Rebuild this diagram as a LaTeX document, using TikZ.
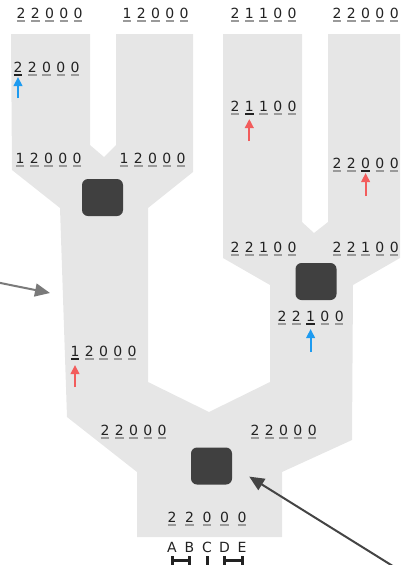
\documentclass[tikz,border=0pt]{standalone}
\usepackage{fontspec}
\setmainfont{DejaVu Sans}
\usetikzlibrary{arrows.meta}
\definecolor{shapegray}{HTML}{E6E6E6}
\definecolor{boxdark}{HTML}{404040}
\definecolor{digitc}{HTML}{222222}
\definecolor{ulgray}{HTML}{9A9A9A}
\definecolor{ulhi}{HTML}{222222}
\definecolor{arrblue}{HTML}{1E9BF0}
\definecolor{arrred}{HTML}{F25C5C}
\definecolor{pointgray}{HTML}{7A7A7A}
\definecolor{pointdark}{HTML}{444444}
\newcommand\digitrow[6]{%
  \foreach \dd [count=\ii] in {#5}{%
    \node[dig] (#1-\ii) at ({#2+(\ii-1)*#4},#3) {\dd};
    \ifnum\ii=#6\relax\def\ulc{ulhi}\else\def\ulc{ulgray}\fi
    \draw[ul,draw=\ulc] ([xshift=-4.2pt,yshift=-3pt]#1-\ii.base) -- ([xshift=4.2pt,yshift=-3pt]#1-\ii.base);
  }}
\begin{document}
\begin{tikzpicture}[x=1pt,y=-1pt,
  dig/.style={anchor=base,inner sep=0pt,font=\fontsize{14}{14}\selectfont,text=digitc},
  lett/.style={anchor=base,inner sep=0pt,font=\fontsize{14}{14}\selectfont,text=digitc},
  ul/.style={line width=1.7pt},
  darkbox/.style={fill=boxdark,draw=none,rounded corners=6pt,minimum width=41pt,minimum height=37pt,inner sep=0pt},
  bluearr/.style={draw=arrblue,line width=2.2pt,-{Triangle[length=9pt,width=8.5pt]}},
  redarr/.style={draw=arrred,line width=2.2pt,-{Triangle[length=9pt,width=8.5pt]}},
  pointer/.style={line width=2pt,-{Triangle[length=15pt,width=13pt]}},
  brk/.style={draw=digitc,line width=3pt}]
\useasboundingbox (0,0) rectangle (402,565);
% gray tree shape
\fill[shapegray] (11,34) -- (90,34) -- (90,145) -- (104,157) -- (116,145) -- (116,34)
  -- (193,34) -- (193,172) -- (148,208) -- (148,382) -- (209,412) -- (270,382)
  -- (270,285) -- (223,258) -- (223,34) -- (302,34) -- (302,222) -- (314,233)
  -- (328,222) -- (328,34) -- (400,34) -- (400,258) -- (353,285) -- (352,440)
  -- (282,472) -- (282,537) -- (137,537) -- (137,472) -- (67,417) -- (60,208)
  -- (12,170) -- cycle;
% dark boxes
\node[darkbox] (box1) at (102.5,197.5) {};
\node[darkbox] (box2) at (316,281.5) {};
\node[darkbox] (box3) at (211.5,466) {};
% digit rows
\digitrow{r1}{21}{18}{14.3}{2,2,0,0,0}{0}
\digitrow{r2}{127}{18}{14.3}{1,2,0,0,0}{0}
\digitrow{r3}{235}{18}{14.3}{2,1,1,0,0}{0}
\digitrow{r4}{337}{18}{14.3}{2,2,0,0,0}{0}
\digitrow{r5}{18}{72}{14.3}{2,2,0,0,0}{1}
\digitrow{r6}{20}{163}{14.3}{1,2,0,0,0}{0}
\digitrow{r7}{124}{163}{14.3}{1,2,0,0,0}{0}
\digitrow{r8}{235}{111}{14.3}{2,1,1,0,0}{2}
\digitrow{r9}{337}{168}{14.3}{2,2,0,0,0}{3}
\digitrow{r10}{235}{252}{14.3}{2,2,1,0,0}{0}
\digitrow{r11}{337}{252}{14.3}{2,2,1,0,0}{0}
\digitrow{r12}{282}{321}{14.3}{2,2,1,0,0}{3}
\digitrow{r13}{75}{356}{14.3}{1,2,0,0,0}{1}
\digitrow{r14}{105}{435}{14.3}{2,2,0,0,0}{0}
\digitrow{r15}{255}{435}{14.3}{2,2,0,0,0}{0}
\digitrow{r16}{172}{522}{17.5}{2,2,0,0,0}{0}
% letters
\foreach \ll [count=\jj] in {A,B,C,D,E}{
  \node[lett] (L\jj) at ({172+(\jj-1)*17.5},552) {\ll};
}
% brackets
\draw[brk] ([yshift=-4pt]L1.base) -- ++(0,14);
\draw[brk] ([yshift=-4pt]L2.base) -- ++(0,14);
\draw[brk] ([yshift=-8.5pt]L1.base) -- ([yshift=-8.5pt]L2.base);
\draw[brk] ([yshift=-4pt]L3.base) -- ++(0,14);
\draw[brk] ([yshift=-4pt]L4.base) -- ++(0,14);
\draw[brk] ([yshift=-4pt]L5.base) -- ++(0,14);
\draw[brk] ([yshift=-8.5pt]L4.base) -- ([yshift=-8.5pt]L5.base);
% coloured arrows
\draw[bluearr] ([yshift=-26pt]r5-1.base) -- ([yshift=-5pt]r5-1.base);
\draw[redarr] ([yshift=-30pt]r8-2.base) -- ([yshift=-8pt]r8-2.base);
\draw[redarr] ([yshift=-28pt]r9-3.base) -- ([yshift=-5pt]r9-3.base);
\draw[bluearr] ([yshift=-31pt]r12-3.base) -- ([yshift=-8pt]r12-3.base);
\draw[redarr] ([yshift=-31pt]r13-1.base) -- ([yshift=-9pt]r13-1.base);
% pointer arrows
\coordinate (p1s) at (-2,282.5);
\coordinate (p1e) at (50,293);
\draw[pointer,draw=pointgray] (p1s) -- (p1e);
\coordinate (p2s) at (404,573);
\draw[pointer,draw=pointdark,shorten >=20pt] (p2s) -- (box3.east);
\end{tikzpicture}
\end{document}
